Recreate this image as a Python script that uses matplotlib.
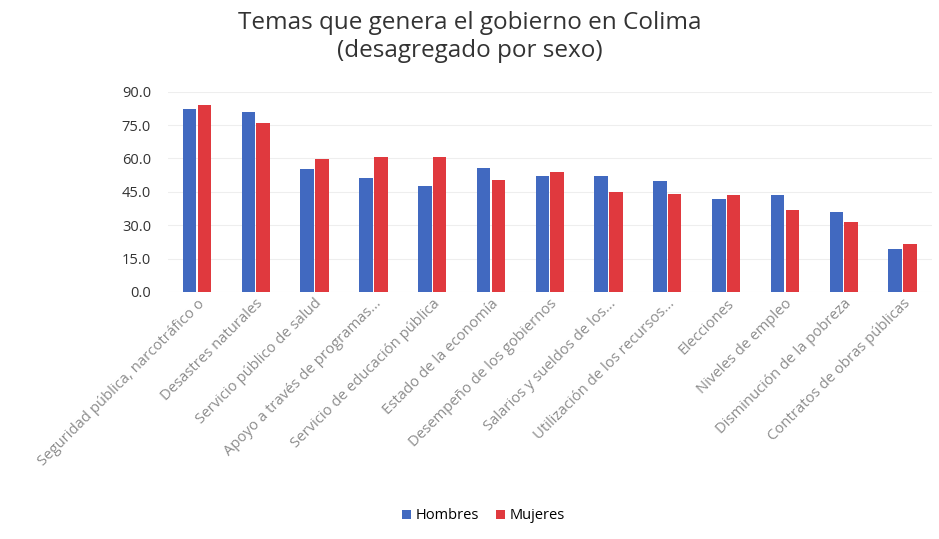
import numpy as np
import matplotlib.pyplot as plt

# Data
categories = [
    "Seguridad pública, narcotráfico o",
    "Desastres naturales",
    "Servicio público de salud",
    "Apoyo a través de programas...",
    "Servicio de educación pública",
    "Estado de la economía",
    "Desempeño de los gobiernos",
    "Salarios y sueldos de los...",
    "Utilización de los recursos...",
    "Elecciones",
    "Niveles de empleo",
    "Disminución de la pobreza",
    "Contratos de obras públicas",
]
hombres = [82.1, 80.9, 55.1, 51.0, 47.6, 55.8, 52.1, 52.1, 50.0, 42.0, 43.5, 36.0, 19.4]
mujeres = [83.9, 75.8, 59.9, 60.8, 60.8, 50.1, 54.0, 44.7, 44.0, 43.5, 36.8, 31.5, 21.5]
yticks = [0, 15, 30, 45, 60, 75, 90]

plt.rcParams['font.family'] = ['Open Sans', 'DejaVu Sans']

fig = plt.figure(figsize=(9.39, 5.39), dpi=100)
ax = fig.add_axes([0.1785, 0.4583, 0.814, 0.3716])

x = np.arange(len(categories))
w = 0.23
ax.bar(x - 0.125, hombres, w, color='#4169C0', label='Hombres', zorder=2)
ax.bar(x + 0.125, mujeres, w, color='#E0393E', label='Mujeres', zorder=2)

ax.set_xlim(-0.5, len(categories) - 0.5)
ax.set_ylim(0, 90)
ax.set_yticks(yticks)
ax.set_yticklabels(["%.1f" % v for v in yticks], fontsize=10.5, color='#333333')
ax.yaxis.grid(True, color='#eeeeee', linewidth=0.8, zorder=0)
ax.tick_params(axis='y', length=0, pad=12)
ax.tick_params(axis='x', length=0, pad=3)
ax.set_xticks(x)
ax.set_xticklabels(categories, rotation=45, ha='right', rotation_mode='anchor',
                   fontsize=10.7, color='#8c8c8c')
for s in ax.spines.values():
    s.set_visible(False)

fig.suptitle("Temas que genera el gobierno en Colima\n(desagregado por sexo)",
             x=0.5, y=0.98, fontsize=17.5, color='#333333', linespacing=1.25)

fig.legend(loc='center', bbox_to_anchor=(0.515, 0.043), ncol=2, frameon=False,
           fontsize=10.5, handlelength=0.6, handleheight=0.6, handletextpad=0.3,
           columnspacing=1.2)

fig.savefig('out.png', dpi=100)
